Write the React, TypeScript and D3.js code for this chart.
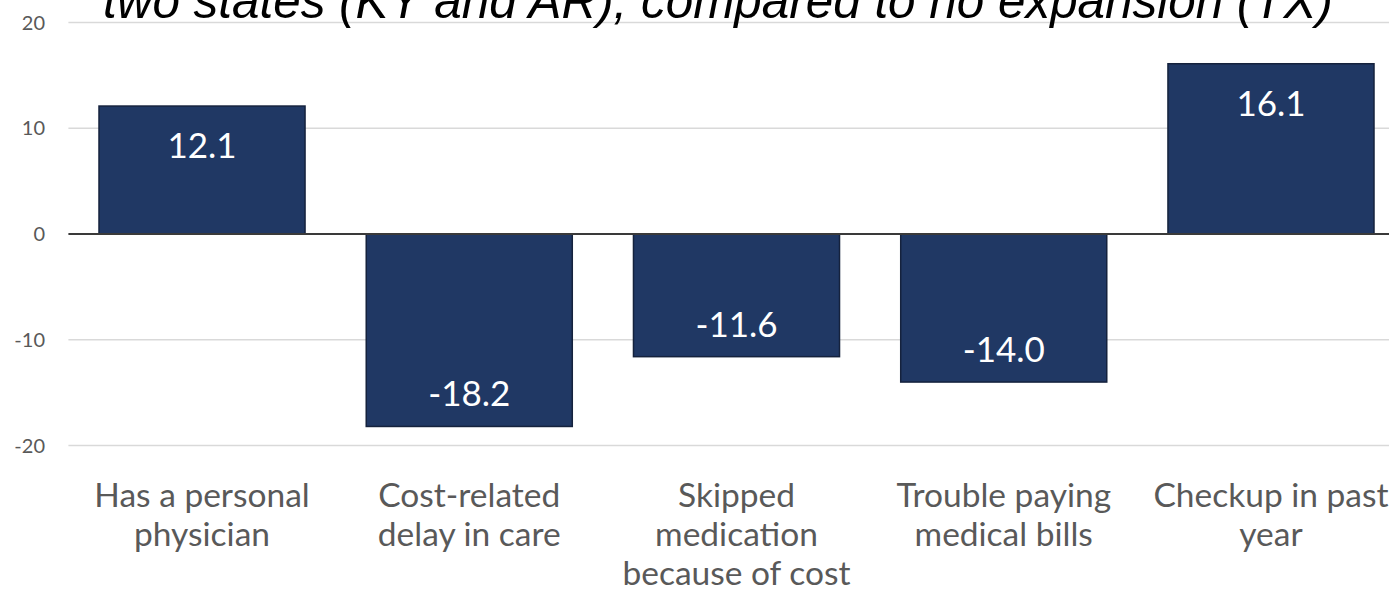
import React, { useEffect, useRef } from 'react';
import * as d3 from 'd3';

// Chart data
const CATEGORIES: string[][] = [
    ['Has a personal', 'physician'],
    ['Cost-related', 'delay in care'],
    ['Skipped', 'medication', 'because of cost'],
    ['Trouble paying', 'medical bills'],
    ['Checkup in past', 'year'],
];
const VALUES = [12.1, -18.2, -11.6, -14.0, 16.1];
const Y_TICKS = [-20, -10, 0, 10, 20];
const TITLE = 'two states (KY and AR), compared to no expansion (TX)';

export default function App() {
    const svgRef = useRef<SVGSVGElement>(null);

    useEffect(() => {
        if (!svgRef.current) return;

        const width = 1389;
        const height = 592;
        const plotLeft = 68.4;
        const plotRight = 1404.6; // plot runs past the right edge, as in the original
        const barColor = '#203864';
        const labelGrey = '#595959';
        const font = 'Lato, "Open Sans", sans-serif';

        const svg = d3.select(svgRef.current);
        svg.selectAll('*').remove();
        svg.attr('width', width).attr('height', height).attr('viewBox', `0 0 ${width} ${height}`);

        const keys = CATEGORIES.map((_, i) => String(i));
        const x = d3.scaleBand<string>()
            .domain(keys)
            .range([plotLeft, plotRight])
            .paddingInner(0.229)
            .paddingOuter(0.1145);

        const y = d3.scaleLinear().domain([-20, 20]).range([445.5, 22.5]);

        // Grid lines
        svg.append('g')
            .selectAll('line')
            .data(Y_TICKS.filter(t => t !== 0))
            .join('line')
            .attr('x1', plotLeft)
            .attr('x2', plotRight)
            .attr('y1', d => y(d))
            .attr('y2', d => y(d))
            .attr('stroke', '#d9d9d9')
            .attr('stroke-width', 1.5);

        // Y tick labels
        svg.append('g')
            .selectAll('text')
            .data(Y_TICKS)
            .join('text')
            .attr('x', 45)
            .attr('y', d => y(d))
            .attr('dy', '0.36em')
            .attr('text-anchor', 'end')
            .style('font-family', font)
            .style('font-size', '20px')
            .attr('fill', labelGrey)
            .text(d => String(d));

        // Bars
        svg.append('g')
            .selectAll('rect')
            .data(VALUES)
            .join('rect')
            .attr('x', (d, i) => x(keys[i])!)
            .attr('width', x.bandwidth())
            .attr('y', d => y(Math.max(0, d)))
            .attr('height', d => Math.abs(y(d) - y(0)))
            .attr('fill', barColor)
            .attr('stroke', '#15223d')
            .attr('stroke-width', 1.5);

        // Zero axis line
        svg.append('line')
            .attr('x1', plotLeft)
            .attr('x2', plotRight)
            .attr('y1', y(0))
            .attr('y2', y(0))
            .attr('stroke', '#3a3a3a')
            .attr('stroke-width', 1.8);

        // Value labels, inside the bar end
        svg.append('g')
            .selectAll('text')
            .data(VALUES)
            .join('text')
            .attr('x', (d, i) => x(keys[i])! + x.bandwidth() / 2)
            .attr('y', d => (d >= 0 ? y(d) + 52 : y(d) - 20))
            .attr('text-anchor', 'middle')
            .style('font-family', font)
            .style('font-size', '35px')
            .attr('fill', '#ffffff')
            .text(d => d.toFixed(1));

        // Category labels
        const cat = svg.append('g')
            .selectAll('text')
            .data(CATEGORIES)
            .join('text')
            .attr('x', (d, i) => x(keys[i])! + x.bandwidth() / 2)
            .attr('y', 507)
            .attr('text-anchor', 'middle')
            .style('font-family', font)
            .style('font-size', '33.5px')
            .attr('fill', labelGrey);

        cat.selectAll('tspan')
            .data(d => d)
            .join('tspan')
            .attr('x', function () {
                return (this.parentNode as SVGTextElement).getAttribute('x');
            })
            .attr('dy', (d, i) => (i === 0 ? 0 : 39))
            .text(d => d);

        // Title, cut off at the top of the picture
        svg.append('text')
            .attr('x', 103)
            .attr('y', 18)
            .style('font-family', '"Liberation Sans", Arial, sans-serif')
            .style('font-style', 'italic')
            .style('font-size', '49.4px')
            .attr('fill', '#000000')
            .text(TITLE);
    }, []);

    return (
        <svg
            ref={svgRef}
            style={{ position: 'absolute', left: 0, top: 0, display: 'block', background: '#ffffff' }}
        />
    );
}
